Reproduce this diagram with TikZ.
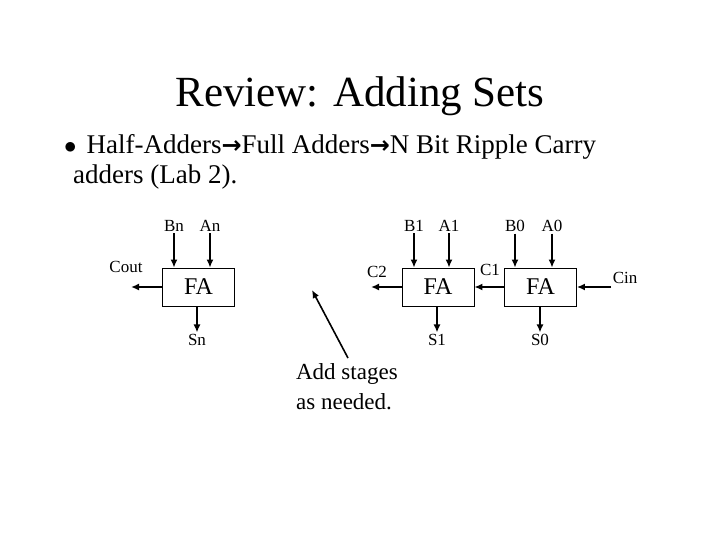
\documentclass[tikz,border=0pt]{standalone}
\usepackage{fontspec}
\setmainfont{Liberation Serif}
\newfontfamily\arrowfont{DejaVu Sans}
\usetikzlibrary{arrows.meta}
\newcommand{\rarr}{{\arrowfont\bfseries\fontsize{24}{28}\selectfont →}}

\begin{document}
\begin{tikzpicture}[x=1pt, y=-1pt, line width=1.6pt, >={Latex[length=8pt,width=7pt]},
  fa/.style = {draw, line width=0.8pt, minimum width=72pt, minimum height=38pt, font=\fontsize{24}{26}\selectfont},
  lbl/.style = {font=\fontsize{17}{19}\selectfont, inner sep=1pt}]
\useasboundingbox (0,0) rectangle (720,540);
\node (title) at (360,96) {\fontsize{43}{46}\selectfont Review: Adding Sets};
\node[anchor=west, align=left, font=\fontsize{27}{32}\selectfont] (bul) at (60,162)
  {$\bullet$\hspace{10pt}Half-Adders\rarr Full Adders\rarr N Bit Ripple Carry\\[-2pt] \hspace*{9pt}adders (Lab 2).};
\node[fa] (fan) at (198.5,287) {FA};
\node[fa] (fa1) at (438,287) {FA};
\node[fa] (fa0) at (540.5,287) {FA};
% inputs
\node[lbl] (bn) at (174,226) {Bn}; \node[lbl] (an) at (210,226) {An};
\node[lbl] (b1) at (414,226) {B1}; \node[lbl] (a1) at (449,226) {A1};
\node[lbl] (b0) at (515,226) {B0}; \node[lbl] (a0) at (552,226) {A0};
\draw[->] (bn) -- (bn |- fan.north);
\draw[->] (an) -- (an |- fan.north);
\draw[->] (b1) -- (b1 |- fa1.north);
\draw[->] (a1) -- (a1 |- fa1.north);
\draw[->] (b0) -- (b0 |- fa0.north);
\draw[->] (a0) -- (a0 |- fa0.north);
% sums
\node[lbl] (sn) at (197,340) {Sn};
\node[lbl] (s1) at (437,340) {S1};
\node[lbl] (s0) at (540,340) {S0};
\draw[->] (sn |- fan.south) -- (sn);
\draw[->] (s1 |- fa1.south) -- (s1);
\draw[->] (s0 |- fa0.south) -- (s0);
% carries
\node[lbl] (cout) at (126,267) {Cout};
\coordinate (coutend) at (131,287);
\draw[->] (fan.west) -- (coutend);
\node[lbl] (c2) at (377,272) {C2};
\coordinate (c2end) at (371,287);
\draw[->] (fa1.west) -- (c2end);
\node[lbl] (c1) at (490,270) {C1};
\draw[->] (fa0.west) -- (fa1.east);
\node[lbl, anchor=west] (cin) at (611,278) {Cin};
\draw[->] (cin.west |- fa0) -- (fa0.east);
% note
\node[align=left, font=\fontsize{23}{30}\selectfont, anchor=north west] (note) at (292,359) {Add stages\\as needed.};
\coordinate (tip) at (312,290);
\draw[->] (348,358) -- (tip);
\end{tikzpicture}
\end{document}
